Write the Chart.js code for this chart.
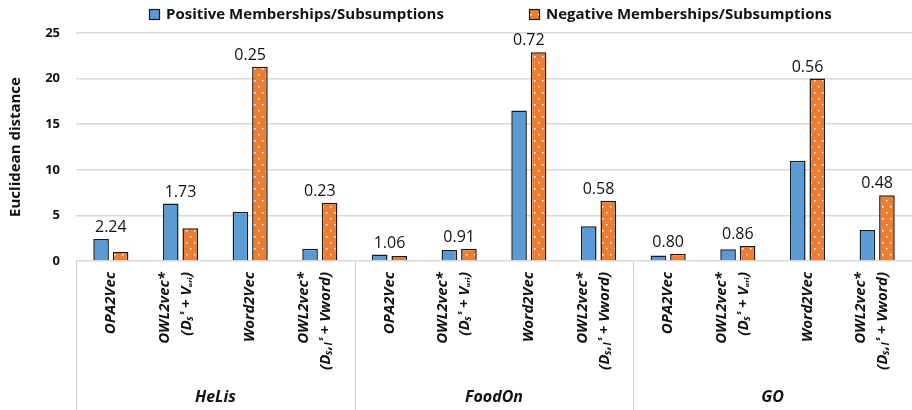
<!DOCTYPE html>
<html>
<head>
<meta charset="utf-8">
<script src="https://cdn.jsdelivr.net/npm/chart.js@4.4.1/dist/chart.umd.min.js"></script>
<style>
  html, body { margin: 0; padding: 0; background: #ffffff; }
  #wrap { width: 912px; height: 410px; position: relative; }
</style>
</head>
<body>
<div id="wrap"><canvas id="c"></canvas></div>
<script>
// ---------- data ----------
const categories = [
  ['OPA2Vec'], ['OWL2vec*', '(Dₛˢ + Vᵤᵣᵢ)'], ['Word2Vec'], ['OWL2vec*', '(Dₛ,ₗˢ + Vword)'],
  ['OPA2Vec'], ['OWL2vec*', '(Dₛˢ + Vᵤᵣᵢ)'], ['Word2Vec'], ['OWL2vec*', '(Dₛ,ₗˢ + Vword)'],
  ['OPA2Vec'], ['OWL2vec*', '(Dₛˢ + Vᵤᵣᵢ)'], ['Word2Vec'], ['OWL2vec*', '(Dₛ,ₗˢ + Vword)']
];
const groups = ['HeLis', 'FoodOn', 'GO'];
const groupSizes = [4, 4, 4];
const seriesNames = ['Positive Memberships/Subsumptions', 'Negative Memberships/Subsumptions'];
const positiveValues = [2.4, 6.3, 5.4, 1.35, 0.7, 1.2, 16.5, 3.8, 0.6, 1.3, 11.0, 3.4];
const negativeValues = [1.0, 3.6, 21.3, 6.4, 0.55, 1.35, 22.9, 6.6, 0.8, 1.65, 20.0, 7.2];
const ratioLabels = ['2.24', '1.73', '0.25', '0.23', '1.06', '0.91', '0.72', '0.58', '0.80', '0.86', '0.56', '0.48'];
const yTicks = [0, 5, 10, 15, 20, 25];

// ---------- styles ----------
const FONT = '"Open Sans", Lato, sans-serif';
const BLUE = '#5B9BD5';
const ORANGE = '#ED7D31';

function dotPattern() {
  const c = document.createElement('canvas');
  c.width = 8; c.height = 12;
  const g = c.getContext('2d');
  g.fillStyle = ORANGE;
  g.fillRect(0, 0, 8, 12);
  g.fillStyle = '#ffffff';
  g.fillRect(2, 2, 1.5, 1.5);
  g.fillRect(6, 8, 1.5, 1.5);
  return g.createPattern(c, 'repeat');
}
const orangeFill = dotPattern();

const annotatePlugin = {
  id: 'annotate',
  afterDatasetsDraw(chart) {
    const ctx = chart.ctx;
    const xs = chart.scales.x;
    const m0 = chart.getDatasetMeta(0).data;
    const m1 = chart.getDatasetMeta(1).data;
    ctx.save();
    ctx.font = '16px ' + FONT;
    ctx.fillStyle = '#111111';
    ctx.textAlign = 'center';
    ctx.textBaseline = 'alphabetic';
    ratioLabels.forEach((t, i) => {
      const top = Math.min(m0[i].y, m1[i].y);
      ctx.fillText(t, xs.getPixelForValue(i), top - 7);
    });
    ctx.restore();
  }
};

const axisPlugin = {
  id: 'groups',
  afterDraw(chart) {
    const ctx = chart.ctx;
    const xs = chart.scales.x;
    const area = chart.chartArea;
    const half = (xs.getPixelForValue(1) - xs.getPixelForValue(0)) / 2;
    ctx.save();
    // category labels (rotated, reading upward)
    ctx.font = 'italic bold 15px ' + FONT;
    ctx.fillStyle = '#111111';
    ctx.textAlign = 'right';
    ctx.textBaseline = 'middle';
    categories.forEach((lines, i) => {
      const cx = xs.getPixelForValue(i);
      const offs = lines.length === 1 ? [0] : [-16, 6];
      lines.forEach((t, j) => {
        ctx.save();
        ctx.translate(cx + offs[j], area.bottom + 11);
        ctx.rotate(-Math.PI / 2);
        ctx.fillText(t, 0, 0);
        ctx.restore();
      });
    });
    // separators
    ctx.strokeStyle = '#d0d0d0';
    ctx.lineWidth = 1;
    let idx = 0;
    const bounds = [area.left];
    groupSizes.forEach(n => { idx += n; bounds.push(xs.getPixelForValue(idx - 1) + half); });
    bounds.slice(0, bounds.length - 1).forEach(x => {
      ctx.beginPath();
      ctx.moveTo(Math.round(x) + 0.5, area.bottom);
      ctx.lineTo(Math.round(x) + 0.5, chart.height);
      ctx.stroke();
    });
    // group labels
    ctx.font = 'italic bold 16px ' + FONT;
    ctx.textAlign = 'center';
    ctx.textBaseline = 'middle';
    groups.forEach((g, i) => {
      ctx.fillText(g, (bounds[i] + bounds[i + 1]) / 2, 397);
    });
    // legend
    ctx.font = 'bold 15px ' + FONT;
    ctx.textAlign = 'left';
    const items = [{x: 149, fill: BLUE}, {x: 529, fill: orangeFill}];
    items.forEach((it, i) => {
      ctx.fillStyle = it.fill;
      ctx.fillRect(it.x, 9, 11, 11);
      ctx.strokeStyle = '#1a1a1a';
      ctx.lineWidth = 1.2;
      ctx.strokeRect(it.x + 0.5, 9.5, 10, 10);
      ctx.fillStyle = '#111111';
      ctx.fillText(seriesNames[i], it.x + 17, 15);
    });
    ctx.restore();
  }
};

new Chart(document.getElementById('c'), {
  type: 'bar',
  data: {
    labels: categories,
    datasets: [
      { label: seriesNames[0], data: positiveValues, backgroundColor: BLUE, borderColor: '#1a1a1a', borderWidth: 1.5,
        barPercentage: 0.8, categoryPercentage: 0.56 },
      { label: seriesNames[1], data: negativeValues, backgroundColor: orangeFill, borderColor: '#1a1a1a', borderWidth: 1.5,
        barPercentage: 0.8, categoryPercentage: 0.56 }
    ]
  },
  options: {
    responsive: true,
    maintainAspectRatio: false,
    devicePixelRatio: 1,
    animation: false,
    layout: { padding: { top: 33, right: 0, left: 0, bottom: 0 } },
    plugins: {
      legend: { display: false },
      tooltip: { enabled: false }
    },
    scales: {
      x: {
        grid: { display: false, drawTicks: false },
        border: { display: false },
        ticks: { display: false },
        afterFit(s) { s.height = 149; s.paddingLeft = 0; s.paddingRight = 0; }
      },
      y: {
        min: 0, max: 25,
        afterBuildTicks(s) { s.ticks = yTicks.map(v => ({ value: v })); },
        grid: { color: '#d9d9d9', lineWidth: 1.5, drawTicks: false },
        border: { display: false },
        ticks: { padding: 16, color: '#111111', font: { family: FONT, size: 13, weight: 'bold' } },
        title: { display: true, text: 'Euclidean distance', color: '#111111',
                 font: { family: FONT, size: 15, weight: 'bold' }, padding: { top: 7, bottom: 0 } },
        afterFit(s) { s.width = 76; }
      }
    }
  },
  plugins: [annotatePlugin, axisPlugin]
});
</script>
</body>
</html>
